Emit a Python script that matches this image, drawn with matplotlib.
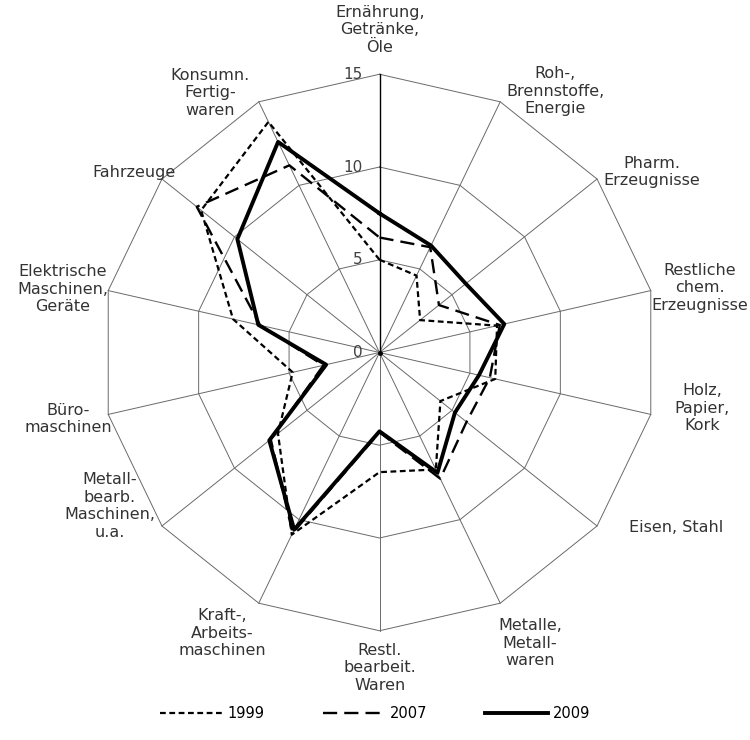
import numpy as np
import matplotlib.pyplot as plt
from matplotlib.lines import Line2D

plt.rcParams['font.family'] = ['DejaVu Sans']

categories = ["Ernährung,\nGetränke,\nÖle", "Roh-,\nBrennstoffe,\nEnergie", "Pharm.\nErzeugnisse",
              "Restliche\nchem.\nErzeugnisse", "Holz,\nPapier,\nKork", "Eisen, Stahl",
              "Metalle,\nMetall-\nwaren", "Restl.\nbearbeit.\nWaren", "Kraft-,\nArbeits-\nmaschinen",
              "Metall-\nbearb.\nMaschinen,\nu.a.", "Büro-\nmaschinen", "Elektrische\nMaschinen,\nGeräte",
              "Fahrzeuge", "Konsumn.\nFertig-\nwaren"]
v1999 = [5.0, 4.6, 2.8, 6.5, 6.4, 4.2, 7.0, 6.45, 10.9, 7.0, 4.8, 8.1, 12.3, 13.8]
v2007 = [6.2, 6.3, 4.1, 6.65, 6.1, 6.0, 7.55, 4.3, 10.8, 7.5, 3.1, 6.6, 12.6, 11.2]
v2009 = [7.5, 6.4, 5.95, 6.9, 5.5, 5.2, 7.2, 4.25, 10.6, 7.6, 2.95, 6.7, 9.8, 12.6]
rings = [5, 10, 15]

# label centres in pixels of the reference picture
label_px = [(380, 30), (555, 91), (652, 172), (700, 288), (702, 408), (676, 527),
            (530, 643), (380, 668), (222, 633), (110, 506), (68, 419), (63, 289),
            (134, 172), (210, 93)]

W, H = 750, 740
cx, cy = 379.5, 352.5
ppu = 18.55  # pixels per unit

fig = plt.figure(figsize=(W / 100, H / 100), dpi=100)
ax = fig.add_axes([0, 0, 1, 1])
ax.set_xlim(-cx / ppu, (W - cx) / ppu)
ax.set_ylim(-(H - cy) / ppu, cy / ppu)
ax.axis('off')

n = len(categories)
theta = np.arange(n) * 2 * np.pi / n


def xy(vals):
    vals = np.asarray(vals, dtype=float)
    x = vals * np.sin(theta)
    y = vals * np.cos(theta)
    return np.append(x, x[0]), np.append(y, y[0])


# grid rings and spokes
for r in rings:
    gx, gy = xy([r] * n)
    ax.plot(gx, gy, color='#6a6a6a', lw=0.7, zorder=1)
rmax = max(rings)
for t in theta[1:]:
    ax.plot([0, rmax * np.sin(t)], [0, rmax * np.cos(t)], color='#6a6a6a', lw=0.7, zorder=1)
ax.plot([0, 0], [0, rmax], color='black', lw=1.0, zorder=2)
ax.plot([0], [0], 'o', color='black', ms=2.5, zorder=2)
for r in [0] + rings:
    ax.text(-17 / ppu, r, str(r), ha='right', va='center', fontsize=11, color='#404040')

# data series
x, y = xy(v1999)
ax.plot(x, y, color='black', lw=1.6, dashes=(2.6, 1.6), zorder=3)
x, y = xy(v2007)
ax.plot(x, y, color='black', lw=1.7, dashes=(6, 3), zorder=3)
x, y = xy(v2009)
ax.plot(x, y, color='black', lw=2.8, zorder=4)

for lab, (px, py) in zip(categories, label_px):
    ax.text((px - cx) / ppu, (cy - py) / ppu, lab, ha='center', va='center',
            fontsize=11.5, color='#333333', linespacing=1.22)

handles = [Line2D([], [], color='black', lw=1.6, dashes=(2.6, 1.6)),
           Line2D([], [], color='black', lw=1.7, dashes=(6, 3)),
           Line2D([], [], color='black', lw=2.8)]
ax.legend(handles, ['1999', '2007', '2009'], loc='center', bbox_to_anchor=(0.5, 1 - 714 / H),
          ncol=3, frameon=False, handlelength=4.3, columnspacing=4.0, handletextpad=0.3,
          fontsize=10.5)

fig.savefig('out.png', dpi=100)
